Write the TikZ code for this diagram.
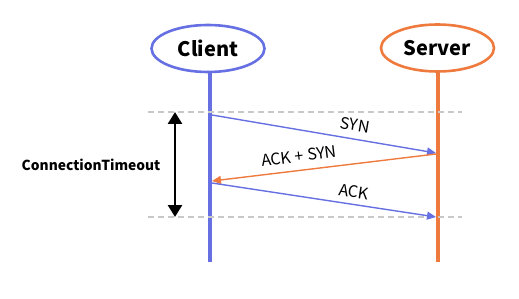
\documentclass[tikz,border=0pt]{standalone}
\usepackage{fontspec}
\setmainfont{Noto Sans CJK KR}
\usetikzlibrary{shapes.geometric,arrows.meta}
\definecolor{cblue}{HTML}{6670E2}
\definecolor{corange}{HTML}{EE7A3D}
\definecolor{dgray}{HTML}{C8C8C8}
\tikzset{
  party/.style={ellipse, draw, line width=2.6pt, minimum width=113pt, minimum height=47pt, inner sep=0pt, font=\fontsize{20}{24}\selectfont\bfseries},
  life/.style={line width=4.5pt},
  msg/.style={line width=1.4pt, -{Triangle[length=9pt,width=8pt]}},
  lbl/.style={font=\fontsize{16}{18}\selectfont, inner sep=1pt},
  guide/.style={dgray, line width=1.1pt, dash pattern=on 6pt off 4pt},
}
\begin{document}
\begin{tikzpicture}[x=1pt,y=-1pt]
\useasboundingbox (0,0) rectangle (519,299);
\node[party, draw=cblue] (client) at (208,48.5) {Client};
\node[party, draw=corange] (server) at (437.5,48) {Server};
\coordinate (cbot) at (210,262);
\coordinate (sbot) at (438,262);
\draw[life, cblue] (client.south -| cbot) -- (cbot);
\draw[life, corange] (server.south -| sbot) -- (sbot);
% guides
\coordinate (g1l) at (148,112); \coordinate (g1r) at (462,112);
\coordinate (g2l) at (148,217); \coordinate (g2r) at (462,217);
\draw[guide] (g1l) -- (g1r);
\draw[guide] (g2l) -- (g2r);
% timeout arrow
\coordinate (t1) at (175,112); \coordinate (t2) at (175,217);
\draw[line width=2.6pt, {Triangle[length=12pt,width=14pt]}-{Triangle[length=12pt,width=14pt]}] (t1) -- (t2);
\node[font=\fontsize{13.8}{16}\selectfont\bfseries] (timeout) at (91,165) {ConnectionTimeout};
% messages
\coordinate (c1) at (212,115); \coordinate (s1) at (436,153);
\coordinate (s2) at (436,154); \coordinate (c2) at (212,181);
\coordinate (c3) at (212,183); \coordinate (s3) at (436,217);
\draw[msg, cblue] (c1) -- (s1);
\draw[msg, corange] (s2) -- (c2);
\draw[msg, cblue] (c3) -- (s3);
\node[lbl, rotate=-9.6] (syn) at (355,125) {SYN};
\node[lbl, rotate=7] (acksyn) at (299,156) {ACK + SYN};
\node[lbl, rotate=-8.6] (ack) at (354,192) {ACK};
\end{tikzpicture}
\end{document}
